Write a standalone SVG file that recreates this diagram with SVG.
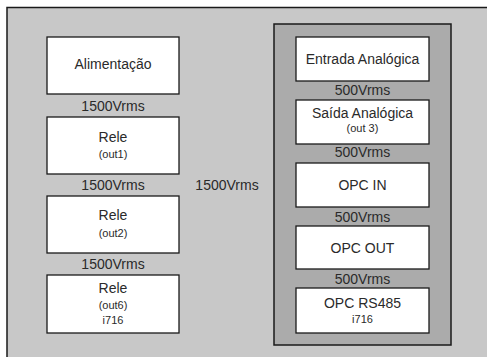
<svg xmlns="http://www.w3.org/2000/svg" width="487" height="357" viewBox="0 0 487 357">
<style>
.bg{fill:#c8c8c8;stroke:#1a1a1a;stroke-width:1.5}
.grp{fill:#ababab;stroke:#1a1a1a;stroke-width:1.5}
.box{fill:#ffffff;stroke:#1a1a1a;stroke-width:1.3}
text{font-family:"Liberation Sans",Arial,sans-serif;fill:#2a2a2a;text-anchor:middle}
.t{font-size:14px}
.s{font-size:11px}
.v{font-size:14px}
</style>
<rect class="bg" x="7" y="7.5" width="490" height="360"/>
<g id="isolation-group">
<rect class="grp" x="274" y="24" width="177" height="321"/>
</g>
<g id="alimentacao"><rect class="box" x="47" y="37" width="132" height="57"/><text class="t" x="113" y="69">Alimentação</text></g>
<g id="rele1"><rect class="box" x="47" y="117" width="132" height="57"/><text class="t" x="113" y="142">Rele</text><text class="s" x="113" y="158">(out1)</text></g>
<g id="rele2"><rect class="box" x="47" y="196" width="132" height="57"/><text class="t" x="113" y="220">Rele</text><text class="s" x="113" y="237">(out2)</text></g>
<g id="rele6"><rect class="box" x="47" y="275" width="132" height="58"/><text class="t" x="113" y="293">Rele</text><text class="s" x="113" y="309">(out6)</text><text class="s" x="113" y="324">i716</text></g>
<g id="entrada"><rect class="box" x="296" y="37" width="133" height="44"/><text class="t" x="362.5" y="64">Entrada Analógica</text></g>
<g id="saida"><rect class="box" x="296" y="100" width="133" height="44"/><text class="t" x="362.5" y="118">Saída Analógica</text><text class="s" x="362.5" y="132">(out 3)</text></g>
<g id="opc-in"><rect class="box" x="296" y="163" width="133" height="44"/><text class="t" x="362.5" y="190">OPC IN</text></g>
<g id="opc-out"><rect class="box" x="296" y="226" width="133" height="43"/><text class="t" x="362.5" y="253">OPC OUT</text></g>
<g id="opc-rs485"><rect class="box" x="296" y="288" width="133" height="45"/><text class="t" x="362.5" y="308">OPC RS485</text><text class="s" x="362.5" y="323">i716</text></g>
<g id="connectors">
<text class="v" x="113" y="111">1500Vrms</text>
<text class="v" x="113" y="190">1500Vrms</text>
<text class="v" x="113" y="269">1500Vrms</text>
<text class="v" x="227" y="190">1500Vrms</text>
<text class="v" x="362.5" y="95">500Vrms</text>
<text class="v" x="362.5" y="157">500Vrms</text>
<text class="v" x="362.5" y="222">500Vrms</text>
<text class="v" x="362.5" y="284">500Vrms</text>
</g>
</svg>
